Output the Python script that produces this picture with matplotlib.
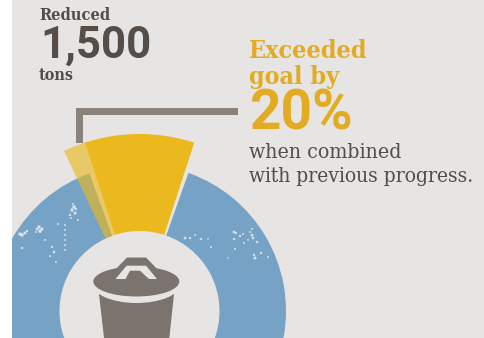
import matplotlib
matplotlib.use("Agg")
import matplotlib.pyplot as plt
from matplotlib.patches import Wedge, Rectangle, Ellipse, Polygon

# ring shares, degrees clockwise from twelve o'clock
goal_deg = 36.0
extra_deg = 7.2
ring_start = 19.5
ring_end = 340.0

# white flecks on the blue ring
fleck_x = [20, 22, 25, 27, 22, 37, 39, 40, 42, 36, 45, 52, 54, 50, 56, 72, 74, 75, 70, 73, 76, 71, 78,
           65, 65, 65, 65, 65, 65, 58,
           185, 190, 195, 201, 208, 211, 234, 236, 234, 240, 243, 252, 253, 250, 257, 248, 252, 255, 254, 261, 268, 235, 228, 244]
fleck_y = [234, 235, 233, 231, 248, 229, 227, 231, 229, 232, 240, 247, 252, 256, 262, 210, 207, 213, 215, 204, 209, 218, 220,
           225, 230, 235, 240, 245, 250, 224,
           238, 238, 235, 239, 239, 247, 232, 233, 239, 236, 234, 235, 238, 232, 242, 240, 229, 258, 255, 253, 257, 249, 258, 243]
fleck_s = [6, 7, 5, 3, 3, 4, 6, 7, 5, 2, 2, 3, 4, 2, 2, 6, 7, 5, 3, 2, 3, 2, 2,
           2, 2, 2, 2, 2, 2, 2,
           4, 3, 2, 3, 1.5, 2, 4, 3, 3, 3, 2, 4, 4, 2, 3, 2, 2, 5, 3, 3, 2, 2, 1.5, 2]

bg = "#e6e5e3"
yellow = "#ebb81e"
blue = "#76a3c5"
grey = "#8a837c"
can = "#7b746e"
dark = "#544d48"
gold = "#e2ab22"
serif = "DejaVu Serif"

cx, cy = 139.5, 311
r_in, r_blue, r_gold = 80, 146.5, 177

fig = plt.figure(figsize=(4.84, 3.38), dpi=100)
ax = fig.add_axes([0, 0, 1, 1])
ax.set_xlim(0, 484)
ax.set_ylim(338, 0)
ax.axis("off")
ax.add_patch(Rectangle((12, 0), 472, 338, color=bg, lw=0, zorder=0))


# y axis points down, so wedge angles run clockwise on screen
def clock_wedge(a1, a2, r, **kw):
    return Wedge((cx, cy), r, a1 - 90, a2 - 90, width=r - r_in, lw=0, **kw)


ax.add_patch(clock_wedge(ring_start, ring_end, r_blue, color=blue, zorder=1))
ax.scatter(fleck_x, fleck_y, s=fleck_s, c="#e6eaec", alpha=0.85, linewidths=0, zorder=2)
half = goal_deg / 2
ax.add_patch(clock_wedge(-half, half, r_gold, color=yellow, zorder=3))
ax.add_patch(clock_wedge(-half - extra_deg, -half, r_gold, color=yellow, alpha=0.63, zorder=3))
ax.add_patch(Rectangle((0, 0), 12, 338, color="white", lw=0, zorder=4))

# connector from the wedge to the label
ax.add_patch(Rectangle((76, 107.5), 162, 7.5, color=grey, lw=0, zorder=2))
ax.add_patch(Rectangle((76, 107.5), 6.7, 35.2, color=grey, lw=0, zorder=2))

# trash can: body, gap under the lid, lid, handle
ax.add_patch(Polygon([(99, 294), (174, 294), (169.3, 338), (104, 338)], color=can, lw=0, zorder=5))
ax.add_patch(Ellipse((136.5, 284), 88, 38, color=bg, lw=0, zorder=6))
ax.add_patch(Ellipse((136.3, 281.5), 86, 30, color=can, lw=0, zorder=7))
ax.add_patch(Polygon([(112, 273), (127, 257.5), (146, 257.5), (161, 273)], color=can, lw=0, zorder=8))
ax.add_patch(Polygon([(115.5, 279), (126.5, 265.7), (146, 265.7), (157, 279), (149, 279), (140, 270.7), (130, 270.7), (125.5, 279)],
                     color=bg, lw=0, zorder=9))

# left block of text
ax.text(39, 16, "Reduced", family=serif, stretch="condensed", weight="bold", fontsize=11.8, color=dark, va="center")
ax.text(40, 46, "1,500", family="Roboto", weight="bold", fontsize=31.5, color=dark, va="center")
ax.text(39, 76, "tons", family=serif, stretch="condensed", weight="bold", fontsize=11.5, color=dark, va="center")

# right block of text
ax.text(249, 51, "Exceeded", family=serif, stretch="condensed", weight="bold", fontsize=18, color=gold, va="center")
ax.text(249, 77, "goal by", family=serif, stretch="condensed", weight="bold", fontsize=18, color=gold, va="center")
ax.text(249, 115, "20%", family="Roboto", weight="bold", fontsize=39.5, color=gold, va="center")
ax.text(249, 152, "when combined", family=serif, stretch="condensed", fontsize=15.2, color=dark, va="center")
ax.text(249, 177, "with previous progress.", family=serif, stretch="condensed", fontsize=15, color=dark, va="center")

fig.savefig("out.png", dpi=100)
